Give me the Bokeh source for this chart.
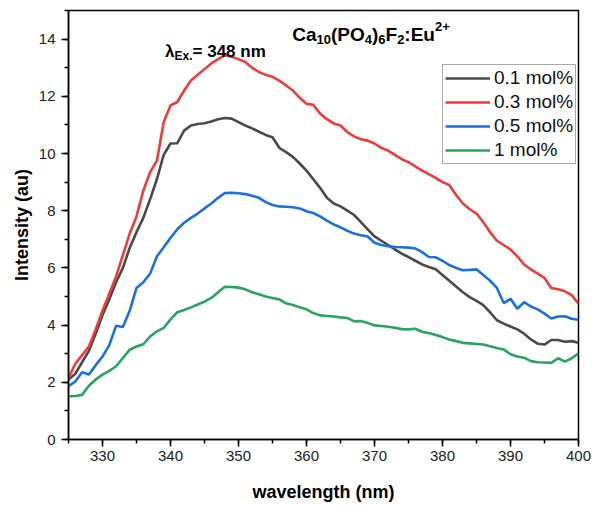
from bokeh.plotting import figure
from bokeh.models import Label, Legend, LegendItem, SingleIntervalTicker, Range1d
from bokeh.embed import file_html
from bokeh.resources import INLINE

wavelength = list(range(325, 401))

s01 = [2.10, 2.30, 2.70, 3.10, 3.70, 4.35, 4.90, 5.50, 6.00, 6.70,
       7.25, 7.75, 8.40, 9.10, 9.95, 10.35, 10.36, 10.80, 10.98, 11.03,
       11.06, 11.12, 11.20, 11.24, 11.22, 11.10, 10.98, 10.88, 10.76, 10.65,
       10.57, 10.20, 10.05, 9.88, 9.65, 9.40, 9.10, 8.80, 8.45, 8.25,
       8.15, 8.00, 7.85, 7.60, 7.35, 7.10, 6.95, 6.80, 6.65, 6.50,
       6.38, 6.25, 6.12, 6.03, 5.95, 5.75, 5.55, 5.35, 5.15, 4.98,
       4.85, 4.70, 4.45, 4.17, 4.05, 3.95, 3.85, 3.70, 3.50, 3.35,
       3.32, 3.48, 3.48, 3.42, 3.44, 3.38]

s03 = [2.15, 2.65, 2.95, 3.25, 3.85, 4.50, 5.10, 5.70, 6.45, 7.20,
       7.80, 8.70, 9.35, 9.75, 11.10, 11.68, 11.80, 12.20, 12.55, 12.75,
       12.95, 13.15, 13.30, 13.44, 13.38, 13.30, 13.20, 13.00, 12.85, 12.75,
       12.68, 12.55, 12.38, 12.20, 11.95, 11.74, 11.70, 11.40, 11.20, 11.05,
       10.98, 10.75, 10.60, 10.50, 10.45, 10.35, 10.20, 10.10, 9.95, 9.80,
       9.70, 9.55, 9.40, 9.28, 9.15, 9.00, 8.90, 8.55, 8.25, 8.05,
       7.90, 7.60, 7.25, 6.95, 6.80, 6.65, 6.40, 6.12, 5.95, 5.80,
       5.65, 5.30, 5.25, 5.18, 5.05, 4.75]

s05 = [1.86, 2.03, 2.35, 2.27, 2.60, 2.90, 3.30, 3.98, 3.93, 4.50,
       5.30, 5.50, 5.80, 6.40, 6.72, 7.05, 7.35, 7.58, 7.75, 7.90,
       8.08, 8.25, 8.45, 8.62, 8.63, 8.61, 8.58, 8.52, 8.45, 8.30,
       8.20, 8.15, 8.14, 8.12, 8.08, 7.98, 7.92, 7.80, 7.65, 7.52,
       7.42, 7.30, 7.20, 7.14, 7.10, 6.88, 6.80, 6.76, 6.73, 6.72,
       6.71, 6.68, 6.55, 6.38, 6.37, 6.25, 6.10, 6.00, 5.92, 5.93,
       5.95, 5.75, 5.55, 5.30, 4.77, 4.92, 4.57, 4.80, 4.65, 4.55,
       4.40, 4.23, 4.30, 4.31, 4.22, 4.19]

s1 = [1.51, 1.52, 1.56, 1.88, 2.10, 2.27, 2.40, 2.56, 2.85, 3.14,
      3.25, 3.33, 3.60, 3.78, 3.90, 4.20, 4.45, 4.53, 4.62, 4.72,
      4.82, 4.95, 5.15, 5.34, 5.33, 5.31, 5.25, 5.15, 5.08, 5.00,
      4.95, 4.90, 4.76, 4.70, 4.62, 4.55, 4.42, 4.34, 4.32, 4.30,
      4.27, 4.25, 4.13, 4.14, 4.07, 3.99, 3.97, 3.94, 3.91, 3.86,
      3.85, 3.87, 3.77, 3.72, 3.65, 3.58, 3.50, 3.44, 3.38, 3.36,
      3.34, 3.32, 3.26, 3.20, 3.15, 2.98, 2.90, 2.86, 2.74, 2.70,
      2.69, 2.68, 2.84, 2.72, 2.84, 3.01]

series_names = ["0.1 mol%", "0.3 mol%", "0.5 mol%", "1 mol%"]
series_values = [s01, s03, s05, s1]
colors = ["#4a4a4a", "#ef3b3b", "#1c6fe0", "#2aa35f"]

FONT = "Liberation Sans"

p = figure(width=595, height=504, output_backend="svg", toolbar_location=None,
           x_range=Range1d(325, 400), y_range=Range1d(0, 15),
           min_border_left=68, min_border_right=17, min_border_top=10,
           min_border_bottom=64, background_fill_color="white",
           border_fill_color="white")
p.xgrid.visible = False
p.ygrid.visible = False
p.outline_line_color = "black"
p.outline_line_width = 1.5

p.xaxis.ticker = SingleIntervalTicker(interval=10, num_minor_ticks=2)
p.yaxis.ticker = SingleIntervalTicker(interval=2, num_minor_ticks=2)
for ax in (p.xaxis[0], p.yaxis[0]):
    ax.axis_line_color = "black"
    ax.axis_line_width = 1.5
    ax.major_tick_line_color = "black"
    ax.minor_tick_line_color = "black"
    ax.major_tick_line_width = 1.5
    ax.minor_tick_line_width = 1.5
    ax.major_tick_in = 0
    ax.minor_tick_in = 0
    ax.major_tick_out = 7
    ax.minor_tick_out = 4
    ax.major_label_text_font = FONT
    ax.major_label_text_font_size = "15px"
    ax.major_label_text_color = "#222222"
    ax.axis_label_text_font = FONT
    ax.axis_label_text_font_size = "18px"
    ax.axis_label_text_font_style = "bold"
    ax.axis_label_text_color = "black"
p.xaxis.axis_label = "wavelength (nm)"
p.yaxis.axis_label = "Intensity (au)"
p.xaxis.major_label_standoff = 4
p.yaxis.major_label_standoff = 6
p.xaxis.axis_label_standoff = 18
p.yaxis.axis_label_standoff = 4

items = []
for name, vals, col in zip(series_names, series_values, colors):
    r = p.line(wavelength, vals, line_color=col, line_width=2.6)
    items.append(LegendItem(label=name, renderers=[r]))

legend = Legend(items=items, location=(374, 275))
legend.label_text_font = FONT
legend.label_text_font_size = "19px"
legend.label_text_color = "#111111"
legend.glyph_width = 45
legend.glyph_height = 20
legend.label_height = 20
legend.label_standoff = 4
legend.spacing = 2
legend.padding = 2
legend.margin = 0
legend.border_line_color = "#555555"
legend.border_line_width = 1
legend.background_fill_alpha = 1
p.add_layout(legend)

# character widths (per 1000 em) of a bold Arial-metric font
W = {'C': 722, 'a': 556, '(': 333, 'P': 667, 'O': 778, ')': 333, 'F': 611,
     ':': 333, 'E': 667, 'u': 611, '+': 584, 'x': 556, '.': 278, '=': 584,
     ' ': 278, 'n': 611, 'm': 889, 'λ': 556}


def text_width(s, size):
    return sum(W.get(c, 556) for c in s) * size / 1000.0


def rich_label(x, y, segments):
    off = 0.0
    for txt, size, dy in segments:
        p.add_layout(Label(x=x, y=y, x_offset=off, y_offset=dy, text=txt,
                           text_font=FONT, text_font_size=f"{size}px",
                           text_font_style="bold", text_color="black",
                           text_baseline="alphabetic", text_align="left"))
        off += text_width(txt, size)


title_segments = [("Ca", 19, 0), ("10", 13, -5), ("(PO", 19, 0), ("4", 13, -5),
                  (")", 19, 0), ("6", 13, -5), ("F", 19, 0), ("2", 13, -5),
                  (":Eu", 19, 0), ("2+", 13, 8)]
rich_label(357.9, 14.17, title_segments)

ex_segments = [("λ", 17, 0), ("Ex.", 12, -5), ("= 348 nm", 17, 0)]
rich_label(339.2, 13.57, ex_segments)

open("out.html", "w").write(file_html(p, INLINE))
